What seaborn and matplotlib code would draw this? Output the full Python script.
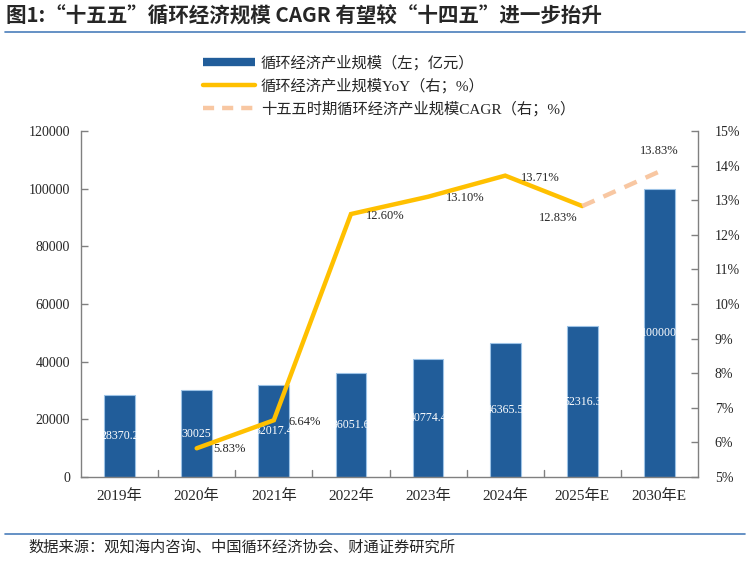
import matplotlib
matplotlib.use("Agg")
import matplotlib.pyplot as plt
import seaborn as sns
import pandas as pd
from matplotlib.lines import Line2D

categories = ["2019年", "2020年", "2021年", "2022年", "2023年", "2024年", "2025年E", "2030年E"]
scale_values = [28370.2, 30025, 32017.4, 36051.6, 40774.4, 46365.5, 52316.3, 100000]
scale_labels = ["28370.2", "30025", "32017.4", "36051.6", "40774.4", "46365.5", "52316.3", "100000"]
yoy_categories = ["2020年", "2021年", "2022年", "2023年", "2024年", "2025年E"]
yoy_values = [5.83, 6.64, 12.60, 13.10, 13.71, 12.83]
cagr_categories = ["2025年E", "2030年E"]
cagr_values = [12.83, 13.83]
left_ticks = [0, 20000, 40000, 60000, 80000, 100000, 120000]
right_ticks = [5, 6, 7, 8, 9, 10, 11, 12, 13, 14, 15]

sns.set_theme(style="white")
SERIF = ["Liberation Serif", "Noto Sans CJK SC"]
CJK = ["Noto Sans CJK SC", "DejaVu Sans"]
plt.rcParams["font.family"] = SERIF
plt.rcParams["axes.unicode_minus"] = False

BAR = "#215D9A"
YEL = "#FFC000"
PEACH = "#F8C7A2"
GREY = "#808080"

fig = plt.figure(figsize=(7.48, 5.64), dpi=100)
ax = fig.add_axes([81/748, 1-477/564, (698-81)/748, (477-131)/564])

df = pd.DataFrame({"cat": categories, "val": scale_values})
sns.barplot(data=df, x="cat", y="val", ax=ax, color=BAR, width=0.4,
            edgecolor="#9DC3E6", linewidth=0.8, saturation=1)
ax.set_xlim(-0.5, len(categories) - 0.5)
ax.set_ylim(0, 120000)
ax.set_yticks(left_ticks)
ax.set_yticklabels([str(t) for t in left_ticks], fontsize=10)
ax.set_xticks(range(len(categories)))
ax.set_xticklabels(categories, fontsize=11)
ax.tick_params(axis="x", length=0, pad=9)
for b in [i + 0.5 for i in range(len(categories) - 1)]:
    ax.plot([b, b], [0, 2400], color=GREY, lw=1)
ax.tick_params(axis="y", direction="in", length=5, color=GREY, width=1, left=True, pad=8)
ax.set_xlabel("")
ax.set_ylabel("")
for s in ["top", "right"]:
    ax.spines[s].set_visible(False)
for s in ["left", "bottom"]:
    ax.spines[s].set_color(GREY)
    ax.spines[s].set_linewidth(1)

bars = ax.patches
for i, (v, lab) in enumerate(zip(scale_values, scale_labels)):
    t = ax.text(i, v / 2, lab, color="white", ha="center", va="center", fontsize=8.6)
    t.set_clip_path(bars[i])

ax2 = ax.twinx()
xpos = {c: i for i, c in enumerate(categories)}
ax2.plot([xpos[c] for c in yoy_categories], yoy_values, color=YEL, lw=3.2, solid_joinstyle="miter")
ax2.plot([xpos[c] for c in cagr_categories], cagr_values, color=PEACH, lw=3.2, dashes=(3, 2.2))
ax2.set_ylim(5, 15)
ax2.set_yticks(right_ticks)
ax2.set_yticklabels([f"{t}%" for t in right_ticks], fontsize=10)
ax2.tick_params(axis="y", direction="in", length=5, color=GREY, width=1, right=True, pad=12)
for s in ["top", "left", "bottom"]:
    ax2.spines[s].set_visible(False)
ax2.spines["right"].set_color(GREY)
ax2.spines["right"].set_linewidth(1)
ax2.grid(False)
ax.grid(False)

offs = [(0.42, -0.03), (0.4, -0.06), (0.45, -0.06), (0.48, -0.03), (0.46, -0.06), (-0.31, -0.35)]
for c, v, (dx, dy) in zip(yoy_categories, yoy_values, offs):
    ax2.text(xpos[c] + dx, v + dy, f"{v:.2f}%", ha="center", va="center", fontsize=9)
ax2.text(xpos["2030年E"], cagr_values[-1] + 0.58, f"{cagr_values[-1]:.2f}%", ha="center",
         va="center", fontsize=9)

handles = [Line2D([0], [0], color=BAR, lw=6, solid_capstyle="butt"),
           Line2D([0], [0], color=YEL, lw=3.2),
           Line2D([0], [0], color=PEACH, lw=3.2, dashes=(2.5, 1.8))]
labels = ["循环经济产业规模（左；亿元）", "循环经济产业规模YoY（右；%）", "十五五时期循环经济产业规模CAGR（右；%）"]
fig.legend(handles, labels, loc="upper left", bbox_to_anchor=(203/748, 1-55/564),
           frameon=False, handlelength=3.4, handletextpad=0.4,
           labelspacing=0.5, borderaxespad=0, borderpad=0,
           prop={"family": SERIF, "size": 11})

fig.text(6/748, 1-16/564, "图1:“十五五”循环经济规模 CAGR 有望较“十四五”进一步抬升",
         fontsize=14.8, fontweight="bold", family=CJK, va="center", ha="left")
fig.add_artist(Line2D([5/748, 745/748], [1-32/564, 1-32/564], color="#4A7EBB", lw=1.2))
fig.add_artist(Line2D([5/748, 745/748], [1-534/564, 1-534/564], color="#4A7EBB", lw=1.2))
fig.text(28/748, 1-547/564, "数据来源：观知海内咨询、中国循环经济协会、财通证券研究所",
         fontsize=11, family=CJK, va="center", ha="left")

fig.savefig("out.png", dpi=100)
